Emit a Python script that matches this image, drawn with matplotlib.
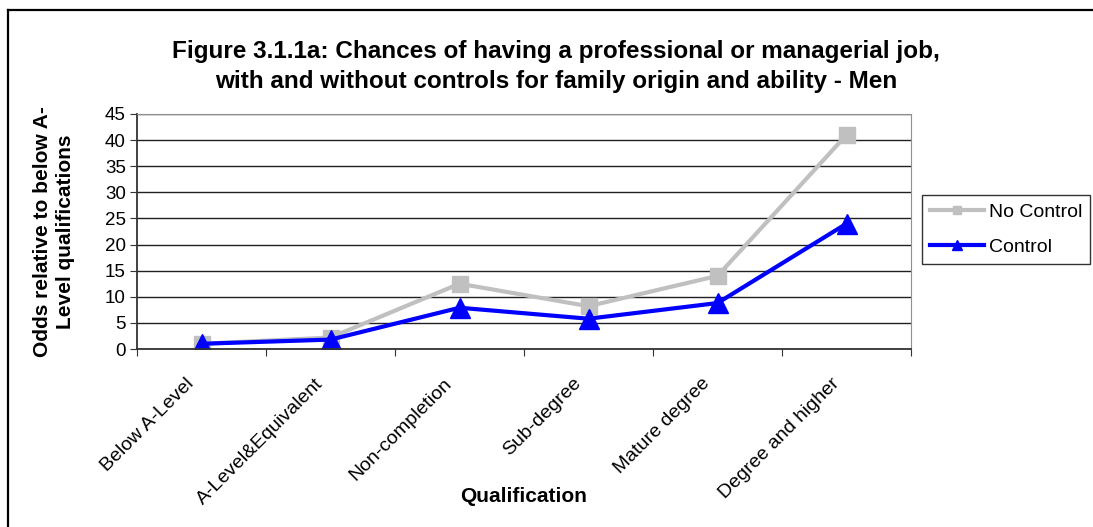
import matplotlib
matplotlib.use("Agg")
from matplotlib import pyplot as plt
from matplotlib.lines import Line2D
from matplotlib.transforms import ScaledTranslation

plt.rcParams['font.family'] = ['Liberation Sans', 'DejaVu Sans']

# Chart data
categories = ["Below A-Level", "A-Level&Equivalent", "Non-completion",
              "Sub-degree", "Mature degree", "Degree and higher"]
no_control = [1.0, 2.2, 12.5, 8.2, 14.0, 41.0]
control = [1.0, 1.8, 7.9, 5.8, 8.8, 24.0]
y_ticks = list(range(0, 50, 5))

W, H = 1093, 527
fig = plt.figure(figsize=(W / 100, H / 100), dpi=100)
ax = fig.add_axes([137 / W, 1 - 349 / H, (911 - 137) / W, (349 - 114) / H])

x = list(range(len(categories)))
ax.plot(x, no_control, color="#c0c0c0", lw=3, marker="s", ms=11, label="No Control")
ax.plot(x, control, color="#0000ff", lw=3, marker="^", ms=14, label="Control")

ax.set_xlim(-0.5, len(categories) - 0.5)
ax.set_ylim(0, 45)
ax.set_yticks(y_ticks)
ax.set_yticklabels([str(v) for v in y_ticks], fontsize=13.5)
ax.yaxis.grid(True, color="#202020", lw=1)
ax.set_axisbelow(True)

# Excel style: ticks between categories, labels at centres
ax.set_xticks([i - 0.5 for i in range(len(categories) + 1)])
ax.set_xticklabels([])
ax.set_xticks(x, minor=True)
ax.set_xticklabels(categories, minor=True, rotation=45, ha="right", va="center",
                   rotation_mode="anchor", fontsize=14)
ax.tick_params(axis="x", which="minor", length=0, pad=23)
ax.tick_params(axis="x", which="major", length=5, direction="out", color="#333333")
ax.tick_params(axis="y", length=5, direction="out", color="#333333", pad=3)
shift = ScaledTranslation(-10 / 100, 0, fig.dpi_scale_trans)
for lab in ax.get_xticklabels(minor=True):
    lab.set_transform(lab.get_transform() + shift)

for side in ["top", "right"]:
    ax.spines[side].set_color("#909090")
for side in ["left", "bottom"]:
    ax.spines[side].set_color("#333333")
    ax.spines[side].set_linewidth(1.3)

ax.set_ylabel("Odds relative to below A-\nLevel qualifications", fontsize=15,
              fontweight="bold", linespacing=1.3)
ax.yaxis.set_label_coords(-(137 - 54) / 774, 0.5)
ax.yaxis.label.set_va("center")
ax.set_xlabel("Qualification", fontsize=15, fontweight="bold")
ax.xaxis.set_label_coords(0.5, -(496 - 349) / 235)
ax.xaxis.label.set_va("center")

fig.text(556 / W, 1 - 66.5 / H,
         "Figure 3.1.1a: Chances of having a professional or managerial job,\n"
         "with and without controls for family origin and ability - Men",
         fontsize=17.5, fontweight="bold", ha="center", va="center", linespacing=1.35)

leg = ax.legend(loc="center left", bbox_to_anchor=((922 - 137) / 774, (349 - 229.5) / 235),
                borderaxespad=0, fontsize=14, frameon=True, fancybox=False,
                edgecolor="black", handlelength=2.8, borderpad=0.4, labelspacing=0.9,
                handletextpad=0.25, markerscale=0.55)
leg.get_frame().set_linewidth(1)

# outer chart border (only top and left edges are visible in the crop)
fig.add_artist(Line2D([8 / W, 1], [1 - 9.5 / H, 1 - 9.5 / H], transform=fig.transFigure,
                      color="black", lw=1.6))
fig.add_artist(Line2D([8 / W, 8 / W], [0, 1 - 9.5 / H], transform=fig.transFigure,
                      color="black", lw=1.6))

fig.savefig("out.png", dpi=100)
